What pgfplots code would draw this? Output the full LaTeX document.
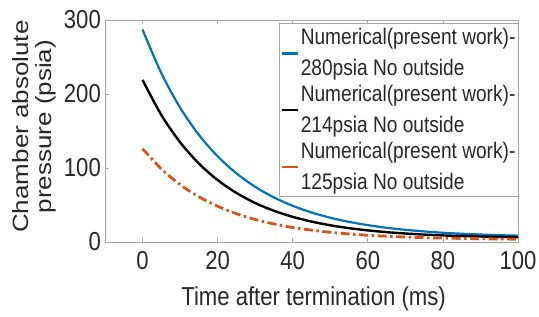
\documentclass[border=0pt]{standalone}
\usepackage{fontspec}
\setmainfont{Liberation Sans}[FakeStretch=0.85]
\newfontfamily\ylfont{Liberation Sans}
\usepackage{pgfplots}
\pgfplotsset{compat=1.18}
\definecolor{mblue}{RGB}{0,114,189}
\definecolor{morange}{RGB}{217,83,25}
\definecolor{axgray}{RGB}{165,165,165}
\definecolor{txt}{RGB}{40,40,40}

\pgfplotstableread{
t p
0 287
5 228.2
10 181.6
15 144.8
20 115.8
25 92.8
30 74.6
35 60.2
40 48.9
45 39.9
50 32.8
55 27.2
60 22.8
65 19.2
70 16.5
75 14.3
80 12.5
85 11.2
90 10.1
95 9.2
100 8.6
}\blue
\pgfplotstableread{
t p
0 219
5 171.7
10 134.8
15 106.1
20 83.7
25 66.3
30 52.7
35 42.2
40 34.0
45 27.6
50 22.6
55 18.7
60 15.7
65 13.3
70 11.5
75 10.0
80 8.9
85 8.1
90 7.4
95 6.9
100 6.4
}\black
\pgfplotstableread{
t p
0 126
5 98.8
10 77.6
15 61.1
20 48.3
25 38.2
30 30.4
35 24.4
40 19.6
45 16.0
50 13.1
55 10.9
60 9.1
65 7.8
70 6.7
75 5.9
80 5.3
85 4.8
90 4.4
95 4.1
100 3.8
}\orange

\begin{document}
\begin{tikzpicture}
\begin{axis}[
  scale only axis,
  width=413pt, height=222pt,
  xmin=-10, xmax=100, ymin=0, ymax=300,
  xtick={0,20,40,60,80,100},
  ytick={0,100,200,300},
  axis line style={axgray, line width=0.8pt},
  tick style={axgray, line width=0.8pt},
  major tick length=4pt,
  tick align=inside,
  /pgf/number format/assume math mode=true,
  ticklabel style={font=\fontsize{26}{30}\selectfont, text=txt},
  yticklabel style={inner sep=1pt, xshift=-3pt},
  xticklabel style={inner sep=1pt, yshift=-8pt},
  xlabel={Time after termination (ms)},
  xlabel style={font=\fontsize{26}{30}\selectfont, text=txt, at={(axis description cs:0.505,0)}, anchor=base, yshift=-63pt},
  ylabel={Chamber absolute\\pressure (psia)},
  ylabel style={font=\ylfont\fontsize{26}{27}\selectfont, text=txt, align=center, at={(axis description cs:-0.172,0.52)}, anchor=center, yscale=0.85},
  legend style={at={(1.002,0.986)}, anchor=north east, draw=axgray, line width=0.8pt,
    font=\fontsize{22.5}{29}\selectfont, text=txt, inner xsep=1pt, inner ysep=3pt,
    cells={align=left}, row sep=4pt},
  legend cell align=left,
  legend image code/.code={\draw[#1, solid, line width=2.4pt] (0pt,-0.5pt) -- (16pt,-0.5pt);},
]
\addplot[mblue, line width=2.2pt, smooth] table[x=t, y=p] {\blue};
\addlegendentry{Numerical(present work)-\\[2pt]280psia No outside}
\addplot[black, line width=2.4pt, smooth] table[x=t, y=p] {\black};
\addlegendentry{Numerical(present work)-\\[2pt]214psia No outside}
\addplot[morange, line width=2.8pt, smooth, dash pattern=on 9pt off 3.5pt on 2.5pt off 3.5pt] table[x=t, y=p] {\orange};
\addlegendentry{Numerical(present work)-\\[2pt]125psia No outside}
\end{axis}
\path ([shift={(-105pt,-74pt)}]current axis.south west) rectangle ([shift={(21pt,20pt)}]current axis.north east);
\end{tikzpicture}
\end{document}
